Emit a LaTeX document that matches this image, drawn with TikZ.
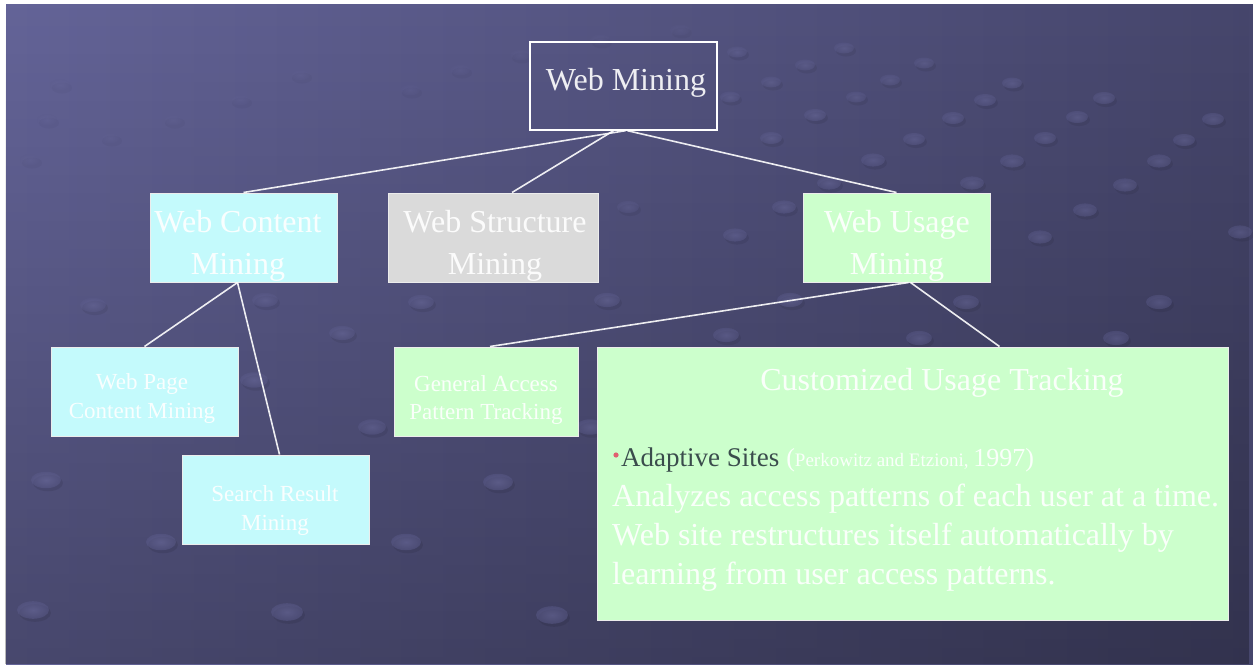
\documentclass[tikz,border=0pt]{standalone}
\usepackage{fontspec}
\setmainfont{Liberation Serif}
\usetikzlibrary{fadings}

\definecolor{bgleft}{RGB}{100,100,152}
\definecolor{bgright}{RGB}{70,70,108}
\definecolor{dotlight}{RGB}{124,124,180}
\definecolor{dotmid}{RGB}{92,92,140}
\definecolor{cyanbox}{RGB}{196,250,252}
\definecolor{greybox}{RGB}{218,218,218}
\definecolor{greenbox}{RGB}{204,255,204}
\definecolor{bodydark}{RGB}{58,76,76}
\definecolor{bulletred}{RGB}{224,96,112}

\tikzfading[name=fadedown, top color=transparent!100, bottom color=transparent!72]

\newcommand\bigsz{\fontsize{32}{42}\selectfont}
\newcommand\smallsz{\fontsize{23}{29}\selectfont}

\tikzset{
  box/.style={rectangle, draw=white!85!gray, line width=1pt, inner sep=0pt},
  link/.style={draw=white, line width=1.6pt, draw opacity=0.9},
  biglbl/.style={text=white, text opacity=0.9, align=center, inner sep=0pt, font=\bigsz},
  smalllbl/.style={text=white, text opacity=0.9, align=center, inner sep=0pt, font=\smallsz},
  bodyline/.style={text=white, text opacity=0.9, inner sep=0pt, anchor=base west, font=\bigsz},
}

\begin{document}
\begin{tikzpicture}[x=1pt,y=-1pt]
\useasboundingbox (0,0) rectangle (1253,664);

% backdrop: bluish gradient, darker towards the bottom
\shade[left color=bgleft, right color=bgright] (6,4) rectangle (1253,664);
\fill[black, path fading=fadedown] (6,4) rectangle (1253,664);

% perspective field of flattened dots
\foreach \x/\y/\r/\o in {
  33/610/16/0.45, 287/612/16/0.45, 552/615/16/0.45,
  46/480/15/0.45, 498/482/15/0.45, 161/542/15/0.45, 406/542/15/0.45,
  254/380/14/0.4, 372/427/14/0.4, 590/427/14/0.4,
  93/305/13/0.35, 265/300/13/0.35, 342/333/13/0.4, 421/302/13/0.4, 607/300/13/0.4,
  726/335/13/0.4, 790/300/13/0.4, 919/338/13/0.4, 966/302/13/0.4,
  1116/338/13/0.4, 1159/302/13/0.4,
  784/207/12/0.4, 735/235/12/0.4, 1085/210/12/0.4, 1040/237/12/0.4,
  1240/232/12/0.4, 628/207/11/0.3,
  737/52/10/0.35, 844/48/10/0.35, 805/65/10/0.35, 924/63/10/0.35,
  771/82/10/0.35, 890/80/10/0.35, 730/97/10/0.35, 856/97/10/0.35,
  1012/83/10/0.4, 985/100/11/0.4, 1104/98/11/0.4, 815/115/11/0.4,
  953/118/11/0.4, 1077/117/11/0.4, 1213/119/11/0.4, 771/138/11/0.4,
  914/139/11/0.4, 1045/138/11/0.4, 1184/140/11/0.4, 873/160/12/0.4,
  1012/161/12/0.4, 1159/161/12/0.4, 829/183/12/0.4, 972/183/12/0.4,
  1125/185/12/0.4,
  60/85/10/0.15, 47/120/10/0.15, 110/138/10/0.15, 30/160/10/0.15,
  173/120/10/0.15, 240/100/10/0.15, 300/75/10/0.15, 410/90/10/0.15,
  460/70/10/0.15, 520/55/10/0.15, 600/40/10/0.15, 680/30/10/0.15}
{
  \fill[black, opacity=0.18*\o] (\x+2,\y+3) ellipse [x radius={\r pt}, y radius={0.55*\r pt}];
  \shade[inner color=dotlight, outer color=dotmid, opacity=\o] (\x,\y) ellipse [x radius={\r pt}, y radius={0.55*\r pt}];
}

% root
\node[box, draw=white, line width=1.4pt, minimum width=187pt, minimum height=88pt] (wm) at (623.5,86) {};
\node[biglbl] (wm-t) at (626,83) {Web Mining};

% second level
\node[box, fill=cyanbox, minimum width=187pt, minimum height=89pt] (wcm) at (243.5,237.5) {};
\node[biglbl] (wcm-t) at (238,246) {Web Content\\Mining};
\node[box, fill=greybox, minimum width=210pt, minimum height=89pt] (wsm) at (493,237.5) {};
\node[biglbl] (wsm-t) at (495,246) {Web Structure\\Mining};
\node[box, fill=greenbox, minimum width=187pt, minimum height=89pt] (wum) at (896.5,237.5) {};
\node[biglbl] (wum-t) at (897,246) {Web Usage\\Mining};

% third level
\node[box, fill=cyanbox, minimum width=187pt, minimum height=89pt] (wpc) at (144.5,391.5) {};
\node[smalllbl] (wpc-t) at (142,398) {Web Page\\Content Mining};
\node[box, fill=cyanbox, minimum width=187pt, minimum height=89pt] (srm) at (275.5,499.5) {};
\node[smalllbl] (srm-t) at (275,510) {Search Result\\Mining};
\node[box, fill=greenbox, minimum width=184pt, minimum height=89pt] (gap) at (486,391.5) {};
\node[smalllbl, font=\fontsize{23}{28}\selectfont] (gap-t) at (486,400) {General Access\\Pattern Tracking};
\node[box, fill=greenbox, minimum width=631pt, minimum height=273pt] (cut) at (912.5,483.5) {};

% contents of the large box
\node[text=white, text opacity=0.9, inner sep=0pt, anchor=base, font=\bigsz] (cut-t) at (942,390) {Customized Usage Tracking};
\fill[bulletred] (616,455) circle [radius=2.6pt];
\node[anchor=base west, inner sep=0pt, text=bodydark, font=\fontsize{27}{30}\selectfont] (as) at (621,466) {Adaptive Sites};
\node[anchor=base west, inner sep=0pt, text=white, text opacity=0.9] (ref) at (as.base east) {\fontsize{26}{30}\selectfont\ (\fontsize{19}{30}\selectfont Perkowitz and Etzioni, \fontsize{26}{30}\selectfont 1997)};
\node[bodyline] (b1) at (612,506) {Analyzes access patterns of each user at a time.};
\node[bodyline] (b2) at (612,545) {Web site restructures itself automatically by};
\node[bodyline] (b3) at (612,584) {learning from user access patterns.};

% connectors
\draw[link] ([xshift=2pt]wm.south) -- (wcm.north);
\draw[link] ([xshift=-10pt]wm.south) -- ([xshift=19pt]wsm.north);
\draw[link] ([xshift=4pt]wm.south) -- (wum.north);
\draw[link] ([xshift=-6pt]wcm.south) -- (wpc.north);
\draw[link] ([xshift=-6pt]wcm.south) -- ([xshift=4pt]srm.north);
\draw[link] ([xshift=12pt]wum.south) -- ([xshift=4pt]gap.north);
\draw[link] ([xshift=14pt]wum.south) -- ([xshift=87pt]cut.north);
\end{tikzpicture}
\end{document}
